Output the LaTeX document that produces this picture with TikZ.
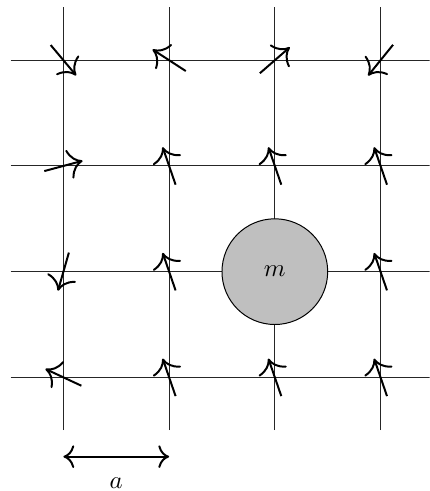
\documentclass[tikz,border=0pt]{standalone}
\usepackage{amsmath}
\usepackage{tikz}
\usetikzlibrary{arrows.meta, positioning}

\begin{document}
\begin{tikzpicture}[
    x=0.75cm, y=0.75cm,
    gridline/.style={thin, black!85},
    spin/.style={-{To[scale=1.7]}, thick},
    mass/.style={
        draw,
        circle,
        fill=black!25,
        minimum size=1.5cm,
        inner sep=0pt
    },
    spacing/.style={{To[scale=1.3]}-{To[scale=1.3]}, thick}
]
\clip (-1.2,-2.15) rectangle (6.93,7.14);

\foreach \y in {0,2,4,6}
    \draw[gridline] (-1,\y) -- (7,\y);
\foreach \x in {0,2,4,6}
    \draw[gridline] (\x,-1) -- (\x,7);

\node[mass] (m) at (4,2) {$m$};

\foreach \x/\y/\ang in {
    0/6/310, 2/6/147, 4/6/41, 6/6/231,
    0/4/15, 2/4/109, 4/4/109, 6/4/109,
    0/2/254, 2/2/109, 6/2/109,
    0/0/155, 2/0/109, 4/0/109, 6/0/109}
    \draw[spin] (\x,\y) ++(\ang+180:0.375) -- ++(\ang:0.75);

\coordinate (aleft) at (0,-1.5);
\coordinate (aright) at (2,-1.5);
\draw[spacing] (aleft) -- (aright);
\node (alabel) at (1,-2) {$a$};
\end{tikzpicture}
\end{document}
